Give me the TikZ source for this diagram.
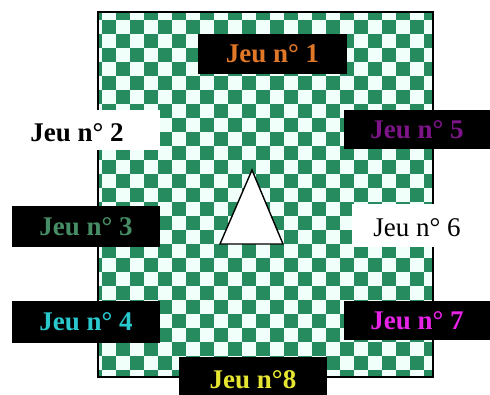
\documentclass[tikz,border=0pt]{standalone}
\usepackage{fontspec}
\setmainfont{Liberation Serif}
\definecolor{chkgreen}{RGB}{38,140,96}
\definecolor{chkbg}{RGB}{240,255,250}
\definecolor{tOrange}{RGB}{225,120,40}
\definecolor{tGreen}{RGB}{70,140,100}
\definecolor{tCyan}{RGB}{40,200,205}
\definecolor{tPurple}{RGB}{125,20,135}
\definecolor{tMagenta}{RGB}{230,35,230}
\definecolor{tYellow}{RGB}{230,230,50}
\tikzset{
  lbl/.style={font=\fontsize{27}{30}\selectfont\bfseries, inner sep=0pt},
  blackbox/.style={lbl, fill=black, minimum width=#1},
  whitepatch/.style={fill=white, inner sep=0pt}
}
\begin{document}
\begin{tikzpicture}[x=1pt,y=-1pt]
\useasboundingbox (0,0) rectangle (490,394);
\fill[white] (0,0) rectangle (490,394);
% checkerboard
\begin{scope}
\clip (98,12) rectangle (433,377);
\fill[chkbg] (98,12) rectangle (433,377);
\foreach \j in {-1,...,26} {
  \pgfmathtruncatemacro\off{mod(\j+100,2)}
  \foreach \i in {-2,0,...,24} {
    \fill[chkgreen] ({102+14*(\i+\off)},{20+14*\j}) rectangle +(14,14);
  }
}
\end{scope}
\draw[line width=2pt] (98,12) rectangle (433,377);
% central triangle
\draw[fill=white, line width=1.4pt, line join=miter] (252,170) -- (283,244) -- (220,244) -- cycle;
% white patches behind plain labels
\fill[white] (20,110) rectangle (160,150);
\fill[white] (352,204) rectangle (472,247);
% labels
\node[blackbox=149, minimum height=40, text=tOrange] (j1) at (272.5,54) {Jeu n° 1};
\node[lbl, text=black] (j2) at (77,133) {Jeu n° 2};
\node[blackbox=148, minimum height=41, text=tGreen] (j3) at (86,226.5) {Jeu n° 3};
\node[blackbox=148, minimum height=42, text=tCyan] (j4) at (86,322) {Jeu n° 4};
\node[blackbox=146, minimum height=39, text=tPurple] (j5) at (417,129.5) {Jeu n° 5};
\node[lbl, font=\fontsize{27}{30}\selectfont, text=black] (j6) at (417,228) {Jeu n° 6};
\node[blackbox=146, minimum height=39, text=tMagenta] (j7) at (417,320.5) {Jeu n° 7};
\node[blackbox=148, minimum height=46, text=tYellow] (j8) at (253,380) {Jeu n°8};
\end{tikzpicture}
\end{document}
